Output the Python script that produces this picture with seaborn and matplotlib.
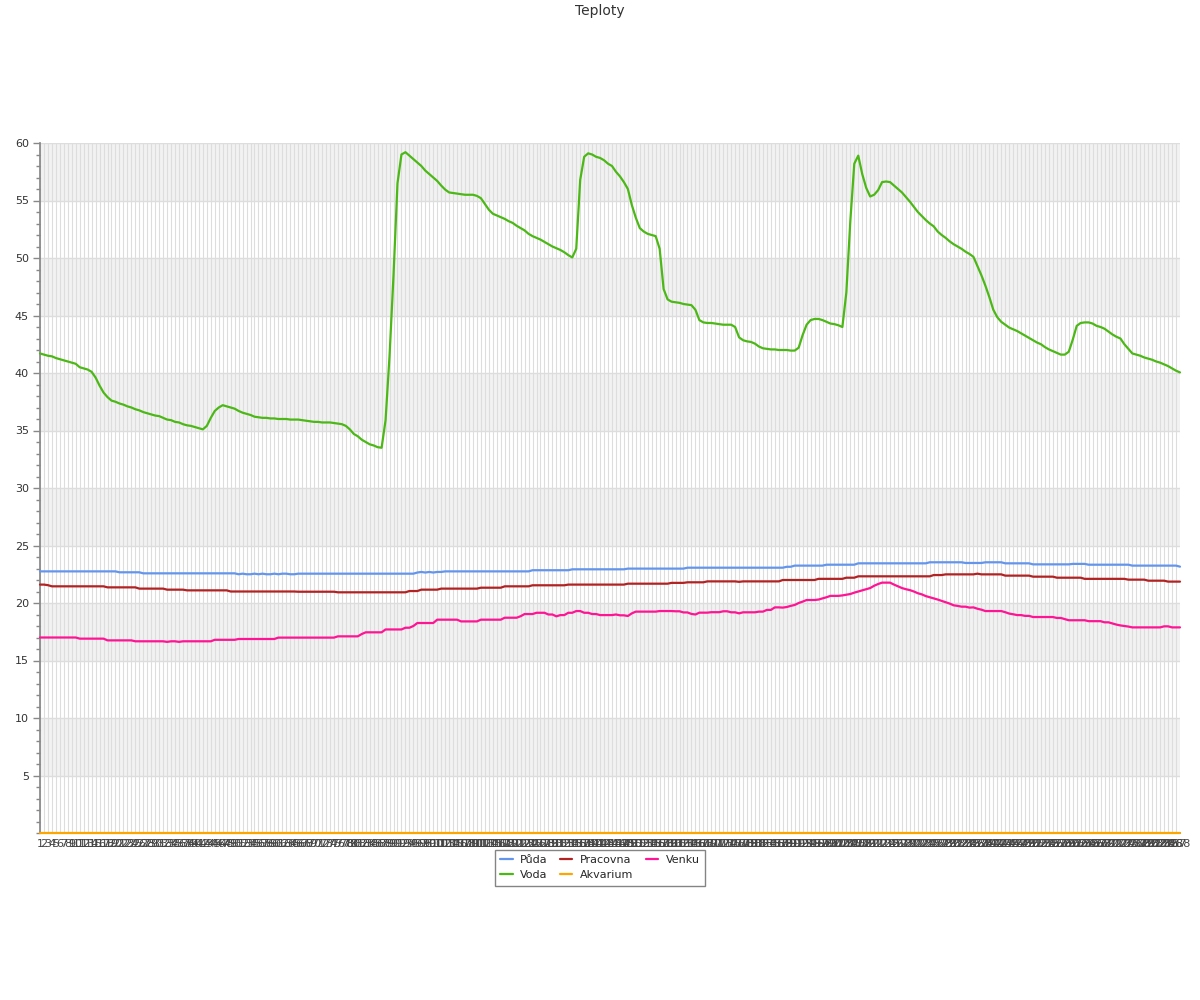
import matplotlib.pyplot as plt
import matplotlib.ticker as mticker
import pandas as pd
import seaborn as sns


TITLE = "Teploty"
X_LABELS = [str(i) for i in range(1, 289)]

PUDA = [
    22.75, 22.75, 22.75, 22.75, 22.75, 22.75, 22.75, 22.75, 22.75, 22.75,
    22.75, 22.75, 22.75, 22.75, 22.75, 22.75, 22.75, 22.75, 22.75, 22.75,
    22.67, 22.67, 22.67, 22.67, 22.67, 22.67, 22.58, 22.58, 22.58, 22.58,
    22.58, 22.58, 22.58, 22.58, 22.58, 22.58, 22.58, 22.58, 22.58, 22.58,
    22.58, 22.58, 22.58, 22.58, 22.58, 22.58, 22.58, 22.58, 22.58, 22.58,
    22.5, 22.55, 22.5, 22.5, 22.55, 22.5, 22.55, 22.5, 22.5, 22.55,
    22.5, 22.55, 22.55, 22.5, 22.5, 22.55, 22.55, 22.55, 22.55, 22.55,
    22.55, 22.55, 22.55, 22.55, 22.55, 22.55, 22.55, 22.55, 22.55, 22.55,
    22.55, 22.55, 22.55, 22.55, 22.55, 22.55, 22.55, 22.55, 22.55, 22.55,
    22.55, 22.55, 22.55, 22.55, 22.55, 22.65, 22.7, 22.65, 22.7, 22.65,
    22.7, 22.7, 22.75, 22.75, 22.75, 22.75, 22.75, 22.75, 22.75, 22.75,
    22.75, 22.75, 22.75, 22.75, 22.75, 22.75, 22.75, 22.75, 22.75, 22.75,
    22.75, 22.75, 22.75, 22.75, 22.85, 22.85, 22.85, 22.85, 22.85, 22.85,
    22.85, 22.85, 22.85, 22.85, 22.93, 22.93, 22.93, 22.93, 22.93, 22.93,
    22.93, 22.93, 22.93, 22.93, 22.93, 22.93, 22.93, 22.93, 22.99, 22.99,
    22.99, 22.99, 22.99, 22.99, 22.99, 22.99, 22.99, 22.99, 22.99, 22.99,
    22.99, 22.99, 22.99, 23.07, 23.07, 23.07, 23.07, 23.07, 23.07, 23.07,
    23.07, 23.07, 23.07, 23.07, 23.07, 23.07, 23.07, 23.07, 23.07, 23.07,
    23.07, 23.07, 23.07, 23.07, 23.07, 23.07, 23.07, 23.07, 23.15, 23.15,
    23.25, 23.25, 23.25, 23.25, 23.25, 23.25, 23.25, 23.25, 23.33, 23.33,
    23.33, 23.33, 23.33, 23.33, 23.33, 23.33, 23.45, 23.45, 23.45, 23.45,
    23.45, 23.45, 23.45, 23.45, 23.45, 23.45, 23.45, 23.45, 23.45, 23.45,
    23.45, 23.45, 23.45, 23.45, 23.54, 23.54, 23.54, 23.54, 23.54, 23.54,
    23.54, 23.54, 23.54, 23.48, 23.48, 23.48, 23.48, 23.48, 23.54, 23.54,
    23.54, 23.54, 23.54, 23.45, 23.45, 23.45, 23.45, 23.45, 23.45, 23.45,
    23.36, 23.36, 23.36, 23.36, 23.36, 23.36, 23.36, 23.36, 23.36, 23.36,
    23.4, 23.4, 23.4, 23.4, 23.33, 23.33, 23.33, 23.33, 23.33, 23.33,
    23.33, 23.33, 23.33, 23.33, 23.33, 23.25, 23.25, 23.25, 23.25, 23.25,
    23.25, 23.25, 23.25, 23.25, 23.25, 23.25, 23.25, 23.16,
]

VODA = [
    41.7, 41.6, 41.5, 41.45, 41.3, 41.2, 41.1, 41.0, 40.9, 40.8,
    40.5, 40.4, 40.3, 40.1, 39.6, 38.9, 38.3, 37.9, 37.6, 37.5,
    37.35, 37.25, 37.1, 37.0, 36.85, 36.75, 36.6, 36.5, 36.4, 36.3,
    36.25, 36.1, 35.95, 35.9, 35.75, 35.7, 35.55, 35.45, 35.4, 35.3,
    35.2, 35.1, 35.4, 36.1, 36.7, 37.0, 37.2, 37.1, 37.0, 36.9,
    36.7, 36.55, 36.45, 36.35, 36.2, 36.15, 36.1, 36.1, 36.05, 36.05,
    36.0, 36.0, 36.0, 35.95, 35.95, 35.95, 35.9, 35.85, 35.8, 35.75,
    35.75, 35.7, 35.7, 35.7, 35.65, 35.6, 35.55, 35.4, 35.1, 34.7,
    34.5, 34.2, 34.0, 33.8, 33.7, 33.55, 33.5, 35.9, 41.5, 48.5,
    56.5, 59.0, 59.2, 58.9, 58.6, 58.3, 58.0, 57.6, 57.3, 57.0,
    56.7, 56.3, 55.95, 55.7, 55.65, 55.6, 55.55, 55.5, 55.5, 55.5,
    55.4, 55.2, 54.7, 54.2, 53.85, 53.7, 53.55, 53.4, 53.2, 53.05,
    52.8, 52.6, 52.4, 52.1, 51.9, 51.75, 51.6, 51.4, 51.2, 51.0,
    50.85, 50.7, 50.5, 50.25, 50.05, 50.8, 56.8, 58.8, 59.1, 59.0,
    58.8, 58.7, 58.5, 58.2, 58.0, 57.5, 57.1, 56.6, 56.0, 54.6,
    53.5, 52.6, 52.3, 52.1, 52.0, 51.9, 50.8, 47.3, 46.4, 46.2,
    46.15, 46.1, 46.0, 45.95, 45.9, 45.5, 44.6, 44.4, 44.35, 44.35,
    44.3, 44.25, 44.2, 44.2, 44.2, 44.0, 43.1, 42.85, 42.75, 42.7,
    42.55, 42.3, 42.15, 42.1, 42.05, 42.05, 42.0, 42.0, 42.0, 41.95,
    41.95, 42.2, 43.3, 44.2, 44.6, 44.7, 44.7, 44.6, 44.45, 44.3,
    44.25, 44.15, 44.0, 47.0, 53.2, 58.2, 58.9, 57.3, 56.1, 55.35,
    55.5, 55.9, 56.6, 56.65, 56.6, 56.3, 56.0, 55.7, 55.3, 54.9,
    54.45, 54.0, 53.65, 53.3, 53.0, 52.75, 52.3, 52.0, 51.75, 51.45,
    51.2, 51.0, 50.8, 50.55, 50.35, 50.1, 49.3, 48.5, 47.6, 46.6,
    45.5, 44.85, 44.45, 44.2, 43.95, 43.8, 43.65, 43.45, 43.25, 43.05,
    42.85, 42.65, 42.5, 42.25, 42.05, 41.9, 41.75, 41.6, 41.6, 41.85,
    42.9, 44.1, 44.35, 44.4, 44.4, 44.3, 44.1, 44.0, 43.85, 43.6,
    43.35, 43.15, 43.0, 42.5, 42.1, 41.7, 41.6, 41.5, 41.35, 41.25,
    41.15, 41.0, 40.9, 40.75, 40.6, 40.4, 40.2, 40.05,
]

PRACOVNA = [
    21.6, 21.6, 21.55, 21.45, 21.45, 21.45, 21.45, 21.45, 21.45, 21.45,
    21.45, 21.45, 21.45, 21.45, 21.45, 21.45, 21.45, 21.36, 21.36, 21.36,
    21.36, 21.36, 21.36, 21.36, 21.36, 21.25, 21.25, 21.25, 21.25, 21.25,
    21.25, 21.25, 21.16, 21.16, 21.16, 21.16, 21.16, 21.1, 21.1, 21.1,
    21.1, 21.1, 21.1, 21.1, 21.1, 21.1, 21.1, 21.1, 21.0, 21.0,
    21.0, 21.0, 21.0, 21.0, 21.0, 21.0, 21.0, 21.0, 21.0, 21.0,
    21.0, 21.0, 21.0, 21.0, 21.0, 20.98, 20.98, 20.98, 20.98, 20.98,
    20.98, 20.98, 20.98, 20.98, 20.98, 20.93, 20.93, 20.93, 20.93, 20.93,
    20.93, 20.93, 20.93, 20.93, 20.93, 20.93, 20.93, 20.93, 20.93, 20.93,
    20.93, 20.93, 20.93, 21.04, 21.04, 21.04, 21.16, 21.16, 21.16, 21.16,
    21.16, 21.25, 21.25, 21.25, 21.25, 21.25, 21.25, 21.25, 21.25, 21.25,
    21.25, 21.33, 21.33, 21.33, 21.33, 21.33, 21.33, 21.45, 21.45, 21.45,
    21.45, 21.45, 21.45, 21.45, 21.54, 21.54, 21.54, 21.54, 21.54, 21.54,
    21.54, 21.54, 21.54, 21.6, 21.6, 21.6, 21.6, 21.6, 21.6, 21.6,
    21.6, 21.6, 21.6, 21.6, 21.6, 21.6, 21.6, 21.6, 21.68, 21.68,
    21.68, 21.68, 21.68, 21.68, 21.68, 21.68, 21.68, 21.68, 21.68, 21.75,
    21.75, 21.75, 21.75, 21.8, 21.8, 21.8, 21.8, 21.8, 21.88, 21.88,
    21.88, 21.88, 21.88, 21.88, 21.88, 21.88, 21.84, 21.88, 21.88, 21.88,
    21.88, 21.88, 21.88, 21.88, 21.88, 21.88, 21.88, 22.0, 22.0, 22.0,
    22.0, 22.0, 22.0, 22.0, 22.0, 22.0, 22.1, 22.1, 22.1, 22.1,
    22.1, 22.1, 22.1, 22.2, 22.2, 22.2, 22.32, 22.32, 22.32, 22.32,
    22.32, 22.32, 22.32, 22.32, 22.32, 22.32, 22.32, 22.32, 22.32, 22.32,
    22.32, 22.32, 22.32, 22.32, 22.32, 22.43, 22.43, 22.43, 22.49, 22.49,
    22.49, 22.49, 22.49, 22.49, 22.49, 22.49, 22.55, 22.49, 22.49, 22.49,
    22.49, 22.49, 22.49, 22.38, 22.38, 22.38, 22.38, 22.38, 22.38, 22.38,
    22.29, 22.29, 22.29, 22.29, 22.29, 22.29, 22.2, 22.2, 22.2, 22.2,
    22.2, 22.2, 22.2, 22.1, 22.1, 22.1, 22.1, 22.1, 22.1, 22.1,
    22.1, 22.1, 22.1, 22.1, 22.03, 22.03, 22.03, 22.03, 22.03, 21.94,
    21.94, 21.94, 21.94, 21.94, 21.86, 21.86, 21.86, 21.86,
]

VENKU = [
    17.0, 17.0, 17.0, 17.0, 17.0, 17.0, 17.0, 17.0, 17.0, 17.0,
    16.9, 16.9, 16.9, 16.9, 16.9, 16.9, 16.9, 16.75, 16.75, 16.75,
    16.75, 16.75, 16.75, 16.75, 16.67, 16.67, 16.67, 16.67, 16.67, 16.67,
    16.67, 16.67, 16.62, 16.67, 16.67, 16.62, 16.67, 16.67, 16.67, 16.67,
    16.67, 16.67, 16.67, 16.67, 16.8, 16.8, 16.8, 16.8, 16.8, 16.8,
    16.87, 16.87, 16.87, 16.87, 16.87, 16.87, 16.87, 16.87, 16.87, 16.87,
    16.99, 16.99, 16.99, 16.99, 16.99, 16.99, 16.99, 16.99, 16.99, 16.99,
    16.99, 16.99, 16.99, 16.99, 16.99, 17.1, 17.1, 17.1, 17.1, 17.1,
    17.1, 17.3, 17.45, 17.45, 17.45, 17.45, 17.45, 17.7, 17.7, 17.7,
    17.7, 17.7, 17.85, 17.85, 18.0, 18.26, 18.26, 18.26, 18.26, 18.26,
    18.55, 18.55, 18.55, 18.55, 18.55, 18.55, 18.4, 18.4, 18.4, 18.4,
    18.4, 18.55, 18.55, 18.55, 18.55, 18.55, 18.55, 18.72, 18.72, 18.72,
    18.72, 18.85, 19.04, 19.04, 19.04, 19.15, 19.15, 19.15, 19.0, 19.0,
    18.84, 18.95, 18.95, 19.15, 19.15, 19.3, 19.3, 19.15, 19.15, 19.04,
    19.04, 18.95, 18.95, 18.95, 18.95, 19.0, 18.93, 18.93, 18.87, 19.1,
    19.25, 19.25, 19.25, 19.25, 19.25, 19.25, 19.3, 19.3, 19.3, 19.3,
    19.28, 19.28, 19.18, 19.18, 19.05, 19.0, 19.16, 19.16, 19.16, 19.2,
    19.2, 19.2, 19.28, 19.28, 19.19, 19.19, 19.1, 19.19, 19.19, 19.19,
    19.19, 19.25, 19.25, 19.4, 19.4, 19.62, 19.62, 19.6, 19.65, 19.75,
    19.83, 20.0, 20.12, 20.26, 20.26, 20.26, 20.3, 20.4, 20.5, 20.62,
    20.62, 20.62, 20.66, 20.72, 20.78, 20.9, 21.0, 21.1, 21.2, 21.3,
    21.5, 21.65, 21.77, 21.77, 21.77, 21.6, 21.45, 21.3, 21.2, 21.12,
    21.0, 20.85, 20.75, 20.6, 20.5, 20.4, 20.3, 20.18, 20.05, 19.95,
    19.8, 19.75, 19.68, 19.68, 19.6, 19.62, 19.5, 19.42, 19.3, 19.3,
    19.3, 19.3, 19.3, 19.2, 19.08, 19.02, 18.95, 18.95, 18.88, 18.88,
    18.78, 18.78, 18.78, 18.78, 18.78, 18.78, 18.7, 18.7, 18.6, 18.5,
    18.5, 18.5, 18.5, 18.5, 18.42, 18.42, 18.42, 18.42, 18.32, 18.32,
    18.22, 18.12, 18.05, 18.0, 17.95, 17.88, 17.88, 17.88, 17.88, 17.88,
    17.88, 17.88, 17.88, 17.97, 17.97, 17.88, 17.88, 17.88,
]

# the aquarium sensor reads 0 over the whole day
AKVARIUM = [0.0] * len(X_LABELS)

SERIES = ["Půda", "Voda", "Pracovna", "Akvarium", "Venku"]
PALETTE = {
    "Půda": "#6495ed",
    "Voda": "#4cb816",
    "Pracovna": "#b22222",
    "Akvarium": "#ffa500",
    "Venku": "#ff1493",
}


def build_frame() -> pd.DataFrame:
    values = {
        "Půda": PUDA,
        "Voda": VODA,
        "Pracovna": PRACOVNA,
        "Akvarium": AKVARIUM,
        "Venku": VENKU,
    }
    frames = []
    for name in SERIES:
        assert len(values[name]) == len(X_LABELS), name
        frames.append(
            pd.DataFrame(
                {"idx": range(len(X_LABELS)), "teplota": values[name], "serie": name}
            )
        )
    return pd.concat(frames, ignore_index=True)


def main() -> None:
    df = build_frame()
    n = len(X_LABELS)

    sns.set_theme(style="white")
    plt.rcParams["font.family"] = ["DejaVu Sans"]

    fig = plt.figure(figsize=(12, 10), dpi=100)
    ax = fig.add_axes([40 / 1200, 0.167, 1140 / 1200, 0.69])

    # alternating grey bands + grid
    for lo in range(5, 60, 10):
        ax.axhspan(lo, lo + 5, color="#f2f2f2", lw=0, zorder=0)
    ax.vlines(range(n), 0, 60, color="#dddddd", lw=0.8, zorder=0.5)
    ax.hlines(range(5, 61, 5), 0, n - 1, color="#dddddd", lw=1.0, zorder=0.6)

    sns.lineplot(
        data=df,
        x="idx",
        y="teplota",
        hue="serie",
        hue_order=SERIES,
        palette=PALETTE,
        linewidth=1.6,
        ax=ax,
    )
    for line in ax.lines:
        line.set_clip_on(False)
        line.set_zorder(4)

    ax.set_xlim(0, n - 1)
    ax.set_ylim(0, 60)
    ax.set_xlabel("")
    ax.set_ylabel("")

    ax.yaxis.set_major_locator(mticker.FixedLocator(range(5, 61, 5)))
    ax.yaxis.set_minor_locator(mticker.MultipleLocator(1))
    ax.tick_params(axis="y", which="major", left=True, length=5, width=1,
                   color="#888888", labelsize=8, labelcolor="#333333", pad=3)
    ax.tick_params(axis="y", which="minor", left=True, length=3, width=1,
                   color="#888888")
    ax.set_xticks(range(n))
    ax.set_xticklabels(X_LABELS)
    ax.tick_params(axis="x", length=0, labelsize=8, labelcolor="#444444", pad=4)

    for side in ["top", "right"]:
        ax.spines[side].set_visible(False)
    ax.spines["left"].set_color("#888888")
    ax.spines["bottom"].set_color("#888888")

    sns.move_legend(
        ax,
        "upper center",
        bbox_to_anchor=(0.5, 0.156),
        bbox_transform=fig.transFigure,
        ncol=3,
        title=None,
        frameon=True,
        fontsize=8,
        handlelength=1.1,
        handletextpad=0.7,
        columnspacing=1.1,
        borderpad=0.5,
        labelspacing=0.45,
        fancybox=False,
        edgecolor="#666666",
    )
    ax.get_legend().get_frame().set_linewidth(1.0)

    fig.text(0.5, 0.989, TITLE, ha="center", va="center", fontsize=10, color="#333333")

    fig.savefig("out.png", dpi=100)
    plt.close(fig)


if __name__ == "__main__":
    main()
